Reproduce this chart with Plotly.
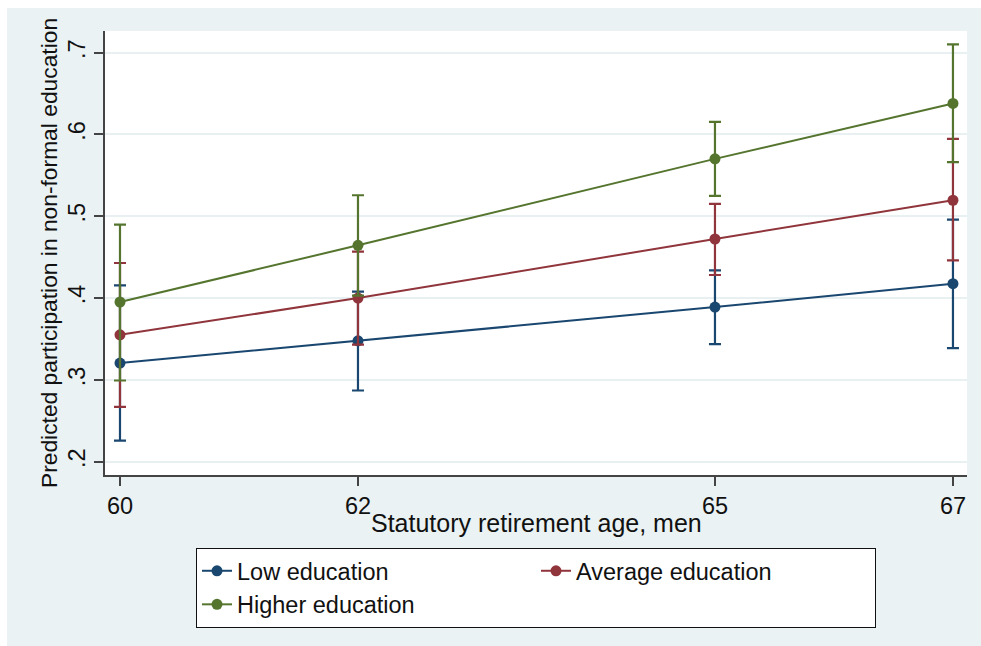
import plotly.graph_objects as go

# ---- data ----
ages = [60, 62, 65, 67]
low_y = [0.3205, 0.3478, 0.389, 0.4176]
low_hi = [0.4155, 0.4078, 0.4339, 0.4959]
low_lo = [0.2257, 0.287, 0.3437, 0.3388]

avg_y = [0.3551, 0.4000, 0.4722, 0.5196]
avg_hi = [0.4429, 0.4567, 0.5151, 0.5947]
avg_lo = [0.267, 0.343, 0.4282, 0.4461]

high_y = [0.3952, 0.4645, 0.5702, 0.6379]
high_hi = [0.4898, 0.5257, 0.6155, 0.7102]
high_lo = [0.2992, 0.403, 0.5249, 0.5661]

series_names = ["Low education", "Average education", "Higher education"]
colors = ["#1a476f", "#90353b", "#55752f"]

y_ticks = [0.2, 0.3, 0.4, 0.5, 0.6, 0.7]
y_ticktext = [".2", ".3", ".4", ".5", ".6", ".7"]
x_title = "Statutory retirement age, men"
y_title = "Predicted participation in non-formal education"

W, H = 981, 646
L, R, T, B = 105, 14, 31, 171
FONT = "Liberation Sans, Arial, Helvetica, sans-serif"

fig = go.Figure()
for name, col, y, hi, lo in zip(series_names, colors,
                                 [low_y, avg_y, high_y],
                                 [low_hi, avg_hi, high_hi],
                                 [low_lo, avg_lo, high_lo]):
    fig.add_trace(go.Scatter(
        x=ages, y=y, name=name, mode="lines+markers",
        line=dict(color=col, width=2),
        marker=dict(color=col, size=11),
        error_y=dict(type="data", symmetric=False,
                     array=[h - v for h, v in zip(hi, y)],
                     arrayminus=[v - l for l, v in zip(lo, y)],
                     color=col, thickness=2.2, width=6),
    ))

pw = W - L - R
ph = H - T - B
def px2paper_x(px):
    return (px - L) / pw
def px2paper_y(py):
    return (H - B - py) / ph

shapes = [
    # white outer frame on left and top
    dict(type="rect", xref="paper", yref="paper", layer="below",
         x0=px2paper_x(0), x1=px2paper_x(7), y0=px2paper_y(H), y1=px2paper_y(0),
         fillcolor="white", line=dict(width=0)),
    dict(type="rect", xref="paper", yref="paper", layer="below",
         x0=px2paper_x(0), x1=px2paper_x(W), y0=px2paper_y(8), y1=px2paper_y(0),
         fillcolor="white", line=dict(width=0)),
]

fig.update_layout(
    width=W, height=H,
    margin=dict(l=L, r=R, t=T, b=B),
    paper_bgcolor="#EAF2F3", plot_bgcolor="white",
    font=dict(family=FONT, size=24, color="#111"),
    shapes=shapes,
    showlegend=True,
    legend=dict(
        orientation="h", x=px2paper_x(196), xanchor="left",
        y=px2paper_y(548), yanchor="top",
        bgcolor="white", bordercolor="#111", borderwidth=1,
        entrywidth=294, entrywidthmode="pixels",
        font=dict(size=23.5, family=FONT),
        traceorder="normal",
    ),
    xaxis=dict(
        range=[59.874, 67.118], tickvals=ages, ticktext=[str(a) for a in ages],
        showgrid=False, zeroline=False,
        showline=True, linecolor="#444", linewidth=1.5,
        ticks="outside", ticklen=9, tickcolor="#444", tickwidth=1.5,
        tickfont=dict(size=23.5),
    ),
    yaxis=dict(
        range=[0.1837, 0.7265], tickvals=y_ticks, ticktext=y_ticktext,
        tickangle=-90,
        showgrid=True, gridcolor="#E8F0F2", gridwidth=2, zeroline=False,
        showline=True, linecolor="#444", linewidth=1.5,
        ticks="outside", ticklen=9, tickcolor="#444", tickwidth=1.5,
        tickfont=dict(size=23.5),
        title=dict(text=y_title, font=dict(size=22.8), standoff=0),
    ),
    annotations=[dict(
        text=x_title, xref="paper", yref="paper",
        x=0.5, y=px2paper_y(523), xanchor="center", yanchor="middle",
        showarrow=False, font=dict(size=25, family=FONT, color="#111"),
    )],
)

fig.write_html("out.html", config={"displayModeBar": False},
               post_script="document.body.style.margin='0';document.body.style.overflow='hidden';")
